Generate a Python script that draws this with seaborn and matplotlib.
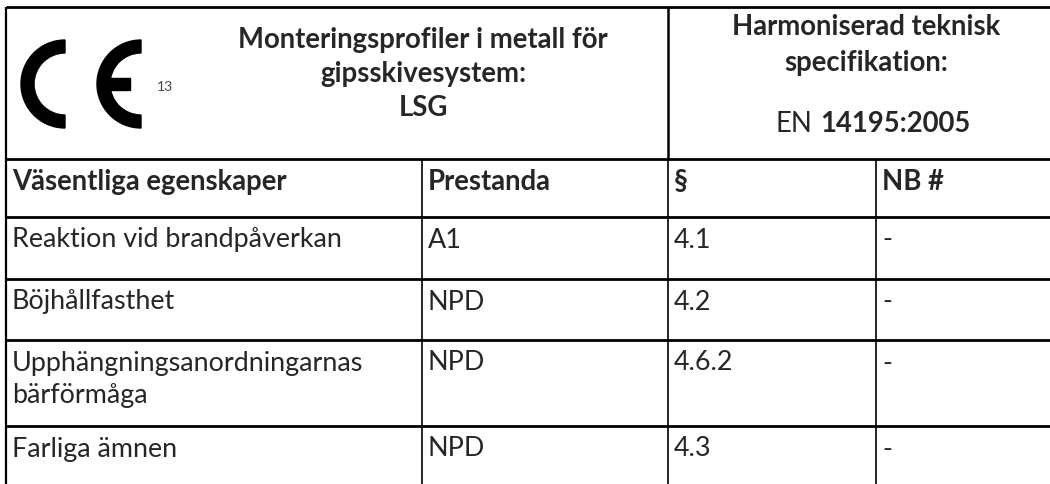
import matplotlib
matplotlib.use("Agg")
import matplotlib.pyplot as plt
from matplotlib.patches import Wedge, Rectangle
import seaborn as sns

# table content
header_left = ["Monteringsprofiler i metall för", "gipsskivesystem:", "LSG"]
header_right = ["Harmoniserad teknisk", "specifikation:"]
standard_prefix = "EN"
standard_number = "14195:2005"
ce_number = "13"

columns = ["Väsentliga egenskaper", "Prestanda", "§", "NB #"]
properties = ["Reaktion vid brandpåverkan", "Böjhållfasthet",
              "Upphängningsanordningarnas\nbärförmåga", "Farliga ämnen"]
performance = ["A1", "NPD", "NPD", "NPD"]
clauses = ["4.1", "4.2", "4.6.2", "4.3"]
notified_body = ["-", "-", "-", "-"]

# grid layout (pixels)
col_edges = [6, 422, 668, 876, 1050]
row_edges = [7, 159, 217, 279, 340, 426, 484]

sns.set_theme(style="white")
plt.rcParams['font.family'] = ['Lato', 'DejaVu Sans']

fig = plt.figure(figsize=(10.5, 4.84), dpi=100)
ax = fig.add_axes([0, 0, 1, 1])
ax.set_xlim(0, 1050)
ax.set_ylim(484, 0)
ax.axis('off')
renderer = fig.canvas.get_renderer()


def fit_size(s, weight, target_px):
    # font size that makes the string about target_px wide
    t = ax.text(0, 0, s, fontsize=10, fontweight=weight)
    w = t.get_window_extent(renderer).width
    t.remove()
    return 10 * target_px / w


FS = fit_size(properties[0], 'normal', 331)
FSB = fit_size(header_left[0], 'bold', 372)

# lines
ax.hlines(row_edges[:-1], col_edges[0], col_edges[-1], color='black', lw=2.0)
ax.vlines(col_edges[0], row_edges[0], row_edges[-1], color='black', lw=1.6)
ax.vlines(col_edges[2], row_edges[0], row_edges[1], color='black', lw=1.8)
ax.vlines(col_edges[1:4], row_edges[1], row_edges[-1], color='black', lw=1.2)

# CE logo
ax.add_patch(Wedge((65, 84), 44, 90, 270, width=13, color='black'))
ax.add_patch(Wedge((141, 84), 44, 90, 270, width=13, color='black'))
ax.add_patch(Rectangle((99, 78), 31, 12, color='black'))
ax.text(157, 87, ce_number, fontsize=10, va='center', ha='left', color='#444444')

# header texts
for k, line in enumerate(header_left):
    ax.text(423, 40 + k * 34, line, fontsize=FSB, fontweight='bold',
            ha='center', va='center')
for k, line in enumerate(header_right):
    ax.text(866, 27 + k * 36, line, fontsize=FSB, fontweight='bold',
            ha='center', va='center')
ax.text(812, 124, standard_prefix, fontsize=FSB, ha='right', va='center')
ax.text(820, 124, standard_number, fontsize=FSB, fontweight='bold',
        ha='left', va='center')

# column headers
for c, name in enumerate(columns):
    ax.text(col_edges[c] + 6, row_edges[1] + 23, name, fontsize=FSB,
            fontweight='bold', ha='left', va='center')

# body rows
for r in range(len(properties)):
    top = row_edges[r + 2]
    cells = [properties[r], performance[r], clauses[r], notified_body[r]]
    for c, val in enumerate(cells):
        for k, line in enumerate(val.split("\n")):
            ax.text(col_edges[c] + 6, top + 23 + k * 32, line, fontsize=FS,
                    ha='left', va='center')

fig.savefig("out.png", dpi=100, facecolor='white')
